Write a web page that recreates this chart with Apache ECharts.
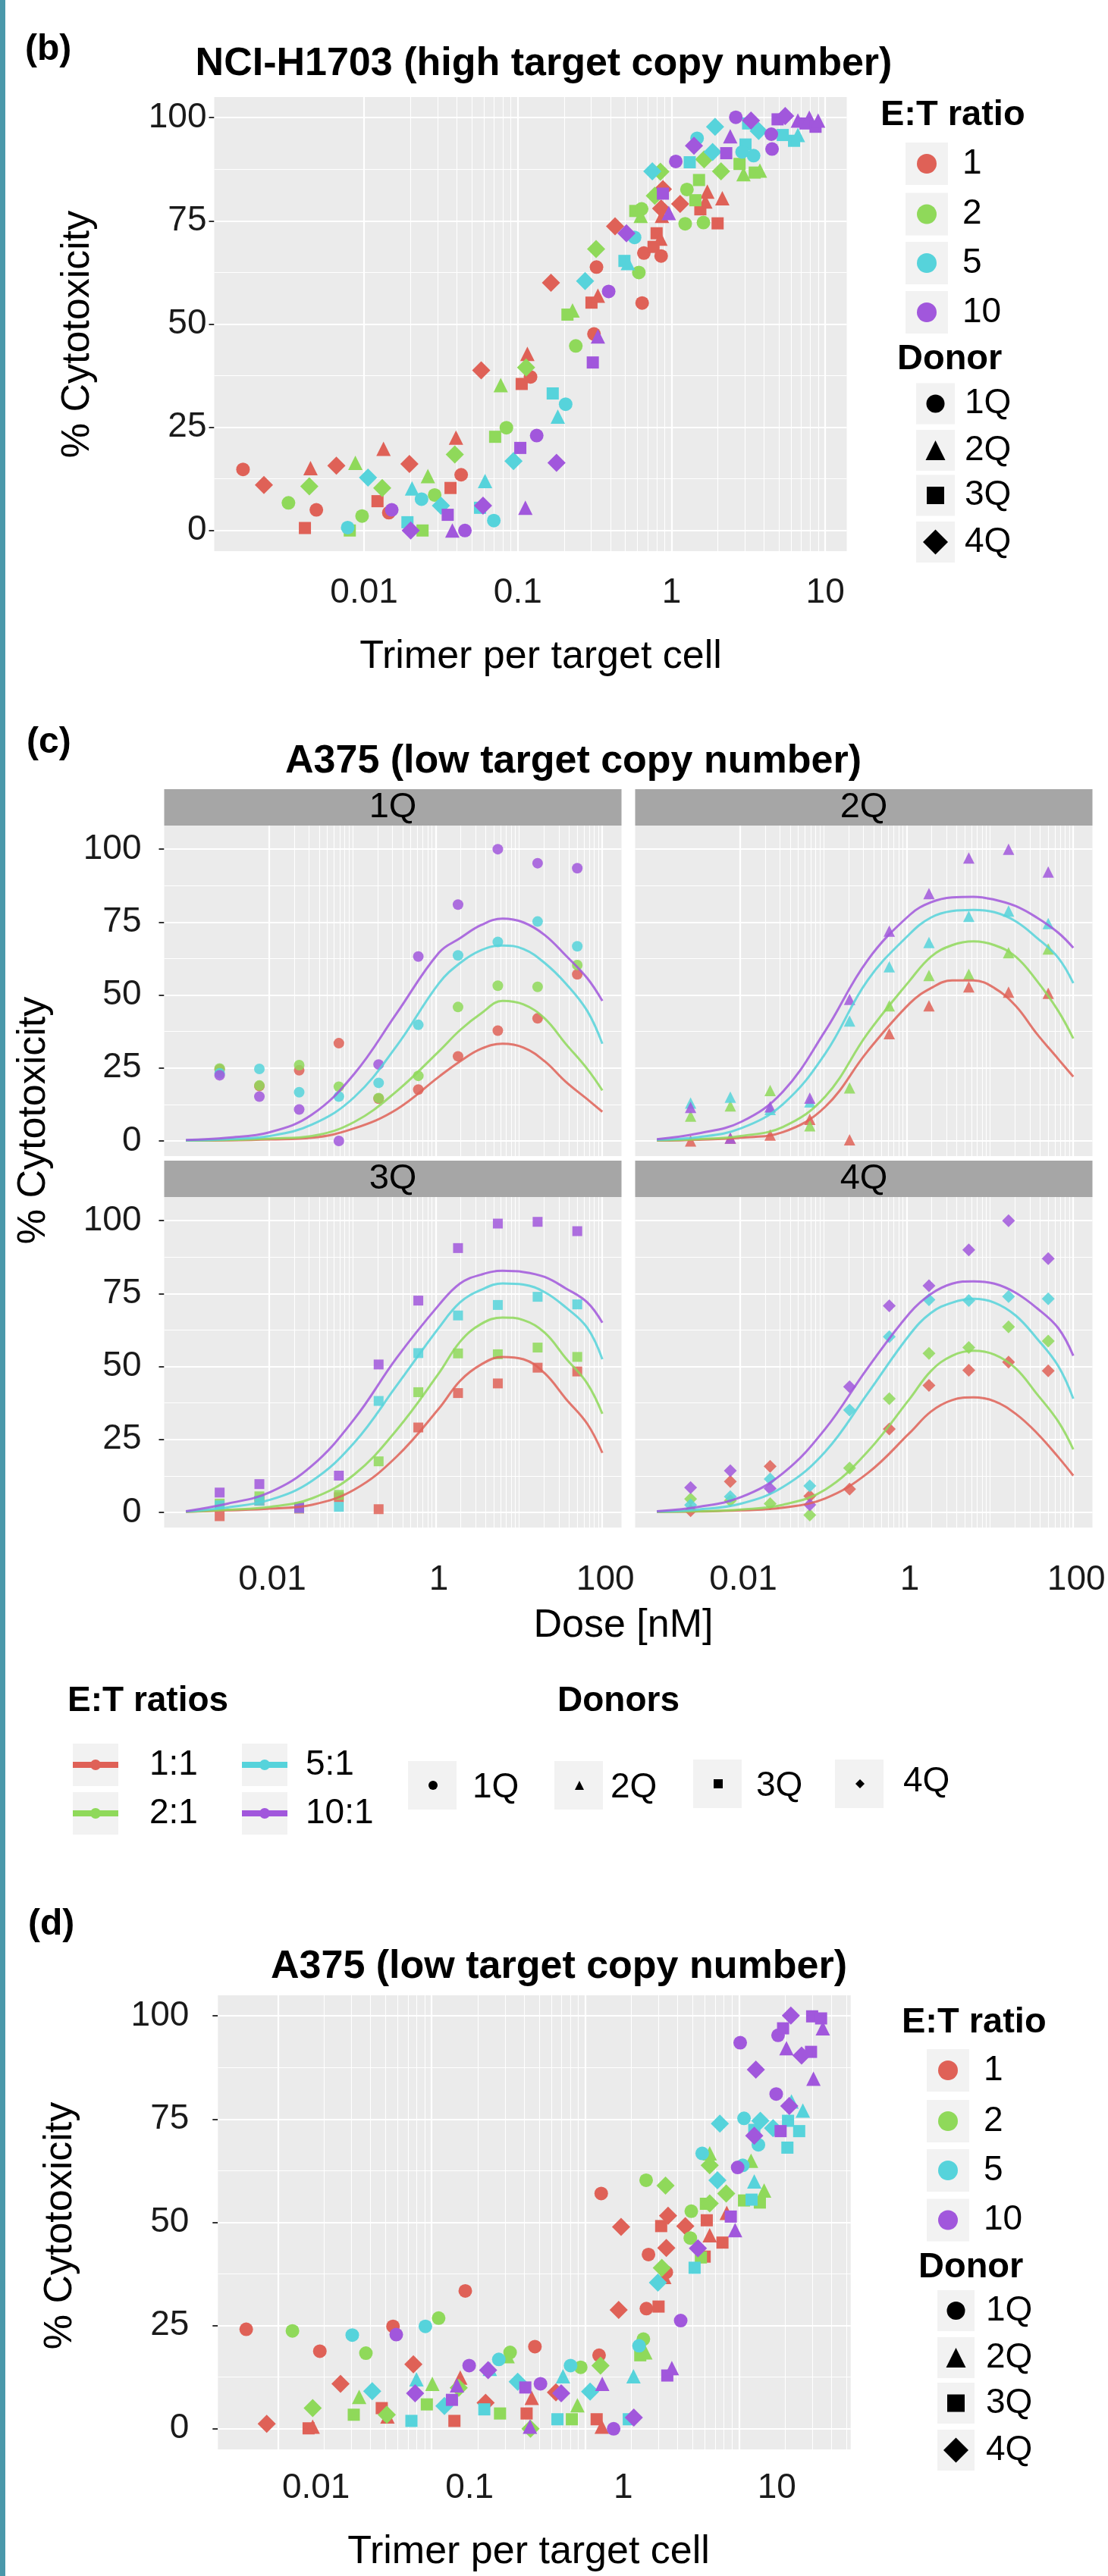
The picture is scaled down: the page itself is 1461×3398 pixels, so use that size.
<!DOCTYPE html>
<html>
<head>
<meta charset="utf-8">
<script src="https://cdn.jsdelivr.net/npm/echarts@6.0.0/dist/echarts.min.js"></script>
<style>
  html, body { margin: 0; padding: 0; background: #fff; }
  #main { width: 1461px; height: 3398px; }
</style>
</head>
<body>
<div id="main"></div>
<script>
// ---------- data ----------
var ratioLevels = [1, 2, 5, 10];
var donorLevels = ['1Q', '2Q', '3Q', '4Q'];
var xTicksTrimer = [0.01, 0.1, 1, 10];
var xTicksDose = [0.01, 1, 100];
var yTicks = [0, 25, 50, 75, 100];
var yMinorTicks = [12.5, 37.5, 62.5, 87.5];

// (b) NCI-H1703: [trimer per target cell, % cytotoxicity, E:T ratio, donor]
var h1703Points = [
  [0.00163,14.8,1,'1Q'],[0.00223,11.0,1,'4Q'],[0.00322,6.7,2,'1Q'],[0.00448,15.1,1,'2Q'],
  [0.0044,10.7,2,'4Q'],[0.00489,5.0,1,'1Q'],[0.00412,0.6,1,'3Q'],[0.0066,15.7,1,'4Q'],
  [0.00877,16.4,2,'2Q'],[0.00782,0.7,5,'1Q'],[0.00807,0,2,'3Q'],[0.0097,3.5,2,'1Q'],
  [0.0106,12.8,5,'4Q'],[0.01337,19.8,1,'2Q'],[0.01312,10.3,2,'4Q'],[0.01222,7.1,1,'3Q'],
  [0.01513,5.0,10,'1Q'],[0.01448,4.3,1,'1Q'],[0.01972,16.1,1,'4Q'],[0.0205,10.2,5,'2Q'],
  [0.01914,2.0,5,'3Q'],[0.0201,0,10,'4Q'],[0.024,0,2,'3Q'],[0.02364,7.6,5,'1Q'],
  [0.026,13.2,2,'2Q'],[0.02878,8.6,2,'1Q'],[0.0316,6.0,5,'4Q'],[0.035,3.8,10,'3Q'],
  [0.0375,0,10,'2Q'],[0.0365,10.3,1,'3Q'],[0.0396,22.5,1,'2Q'],[0.0389,18.4,2,'4Q'],
  [0.0428,13.5,1,'1Q'],[0.0453,0,10,'1Q'],[0.0578,38.8,1,'4Q'],[0.0774,35.2,2,'2Q'],
  [0.0712,22.7,2,'3Q'],[0.0843,24.9,2,'1Q'],[0.0612,12,5,'2Q'],[0.0594,6.0,10,'4Q'],
  [0.0568,5.5,5,'3Q'],[0.0698,2.4,5,'1Q'],[0.0938,16.8,5,'4Q'],[0.1038,20,10,'3Q'],
  [0.112,5.5,10,'2Q'],[0.106,35.5,1,'3Q'],[0.1154,42.8,1,'2Q'],[0.1132,39.5,2,'4Q'],
  [0.121,37.2,1,'1Q'],[0.1327,23,10,'1Q'],[0.1786,16.4,10,'4Q'],[0.1687,33.2,5,'3Q'],
  [0.2047,30.6,5,'1Q'],[0.182,27.6,5,'2Q'],[0.3075,40.7,10,'3Q'],[0.2383,44.7,2,'1Q'],
  [0.313,47.6,1,'1Q'],[0.332,47,10,'2Q'],[0.2104,52.3,2,'3Q'],[0.227,53.3,2,'2Q'],
  [0.1643,60,1,'4Q'],[0.3015,55.2,1,'3Q'],[0.332,56.9,1,'2Q'],[0.325,63.8,1,'1Q'],
  [0.39,57.9,10,'1Q'],[0.274,60.4,5,'4Q'],[0.323,68.2,2,'4Q'],[0.4293,73.7,1,'4Q'],
  [0.509,72.0,10,'4Q'],[0.575,71,5,'1Q'],[0.494,65.3,5,'3Q'],[0.52,64.8,5,'2Q'],
  [0.613,62.5,2,'1Q'],[0.644,55.1,1,'1Q'],[0.581,77.4,2,'3Q'],[0.639,77.9,2,'1Q'],
  [0.63,76.2,2,'2Q'],[0.75,87,5,'4Q'],[0.847,86.9,2,'4Q'],[0.8,72,1,'3Q'],
  [0.847,70.7,1,'2Q'],[0.661,67.2,1,'1Q'],[0.764,68.7,1,'3Q'],[0.856,66.5,1,'1Q'],
  [0.778,81.1,2,'4Q'],[0.856,78,1,'4Q'],[0.866,76.2,1,'2Q'],[0.879,82.7,1,'4Q'],
  [0.879,81.6,10,'3Q'],[0.96,76.9,10,'2Q'],[1.066,89.4,10,'1Q'],[1.227,74.3,2,'1Q'],
  [1.613,74.6,2,'1Q'],[1.995,74.4,1,'3Q'],[1.138,79.1,1,'4Q'],[1.26,82.6,2,'1Q'],
  [1.429,80,2,'3Q'],[1.71,82.1,1,'2Q'],[1.54,77.8,1,'3Q'],[1.66,79.7,1,'2Q'],
  [2.14,80.5,1,'2Q'],[1.51,84.9,2,'3Q'],[1.467,95,5,'1Q'],[1.4,93.2,10,'4Q'],
  [1.92,97.8,5,'4Q'],[1.314,89.2,5,'3Q'],[1.85,91.7,5,'4Q'],[1.63,89.9,2,'4Q'],
  [2.1,87,2,'4Q'],[2.27,91.4,10,'3Q'],[2.41,95.5,10,'2Q'],[2.62,100.1,10,'1Q'],
  [3.29,99.3,10,'4Q'],[3.15,98.6,5,'3Q'],[3.03,93.5,5,'3Q'],[3.69,96.8,5,'4Q'],
  [2.88,91.7,5,'1Q'],[3.42,90.8,5,'1Q'],[2.77,88.8,2,'3Q'],[2.94,86.3,2,'2Q'],
  [3.48,86.7,2,'3Q'],[3.76,87.2,2,'2Q'],[4.51,92.4,10,'1Q'],[4.46,96,10,'1Q'],
  [4.9,99.6,10,'3Q'],[5.49,100.4,10,'4Q'],[5.29,95.8,5,'3Q'],[6.27,94.4,5,'3Q'],
  [6.64,95.8,5,'2Q'],[6.64,99.3,10,'2Q'],[7.44,98.6,10,'3Q'],[7.88,100,10,'2Q'],
  [8.65,97.8,10,'3Q'],[8.99,99.3,10,'2Q']
];

// (c) A375 dose response per donor; rows are E:T 1, 2, 5, 10
var doseNM = [0.00254, 0.00762, 0.0229, 0.0686, 0.206, 0.617, 1.85, 5.56, 16.7, 50];
var obs1Q = [
  [24.5, 18.8, 24.2, 33.5, 14.5, 17.6, 29, 37.8, 42, 57.1],
  [24.8, 19, 26, 18.6, 14.7, 22.3, 45.9, 53.2, 52.8, 60.3],
  [23.2, 24.7, 16.7, 15.2, 19.9, 39.8, 63.6, 68.2, 75.2, 66.7],
  [22.5, 15.2, 10.8, 0, 26.2, 63.2, 81, 100, 95.2, 93.5]
];
var obs2Q = [
  [0, 1, 2, 7.4, 0.4, 36.8, 46.3, 52.8, 51, 50.6],
  [8.5, 12, 17.3, 5.2, 18.2, 46.3, 56.7, 57.1, 64.5, 65.8],
  [13, 15, 10.8, 13.4, 41.1, 59.7, 68, 77, 78.8, 74.5],
  [11.5, 1, 11.7, 14.7, 48.5, 71.9, 84.8, 97, 100, 92.2]
];
var obs3Q = [
  [-1.3, 4, 1.3, 5.2, 1.1, 29.1, 40.9, 44.2, 49.6, 48.3],
  [3, 5.5, 1.8, 6, 17.5, 41.2, 54.5, 54.2, 56.5, 53.3],
  [2.4, 4, 1.5, 1.9, 38.2, 54.6, 67.5, 71.1, 73.9, 71.3],
  [6.8, 9.7, 1.6, 12.6, 50.7, 72.6, 90.6, 99, 99.6, 96.4]
];
var obs4Q = [
  [0.6, 10.6, 15.8, 5.6, 8, 28.6, 43.5, 48.7, 51.5, 48.5],
  [4.6, 4, 3, -0.9, 15.2, 39, 54.5, 56.5, 63.6, 58.7],
  [2.5, 5.4, 11.4, 9.1, 35.1, 60.2, 72.9, 72.6, 74, 73.2],
  [8.5, 14.3, 8.2, 2.6, 43.1, 70.8, 77.7, 90, 100, 87]
];
// fitted curves
var fitDoseNM = [0.001, 0.00316, 0.0102, 0.0326, 0.105, 0.338, 1.09, 1.96, 3.51, 6.32, 11.3, 20.3, 36.3, 65.8, 100];
var fit1Q = [
  [0.1, 0.2, 0.5, 1.1, 4.3, 10.8, 22, 27.3, 31.6, 33.3, 32, 27.3, 20.3, 14.3, 10],
  [0.1, 0.3, 0.8, 1.7, 6.5, 17, 30.7, 38, 43.7, 48, 46.8, 42, 33.3, 24.7, 17.3],
  [0.2, 0.6, 1.7, 5.6, 15, 32.5, 54, 61, 65.4, 67, 65.8, 61, 54, 44.6, 33.3],
  [0.3, 1.1, 3, 9, 23, 43.7, 64.5, 69.5, 74, 76.2, 74.9, 70.6, 63.6, 55.8, 48]
];
var fit2Q = [
  [0.1, 0.4, 1.1, 3, 11.7, 30.7, 47.2, 52.4, 55, 55, 52.4, 46.3, 36.8, 28.1, 22],
  [0.2, 0.6, 1.7, 4.8, 15.2, 36.8, 55, 63.2, 67.1, 68.4, 67.1, 63.2, 55, 44.6, 35.1],
  [0.4, 1.3, 4.3, 12.6, 29.9, 55, 71, 76.6, 78.8, 79.2, 78.4, 75.3, 69.7, 62.8, 54.1],
  [0.6, 2.6, 6.5, 16.9, 37.7, 61.9, 77.5, 81.8, 83.5, 83.7, 82.7, 80.5, 76.6, 71.4, 66.2]
];
var fit3Q = [
  [0.2, 0.7, 1.3, 2.6, 7.8, 19.1, 35.6, 45.1, 50.7, 53.3, 52.5, 47.7, 39, 30.4, 20.4],
  [0.2, 0.9, 1.9, 4.8, 13, 28.2, 47.7, 58.5, 64.6, 66.8, 65.9, 61.6, 52.9, 44.2, 33.8],
  [0.3, 1.7, 4.3, 10.8, 23.9, 43.4, 63.3, 72, 76.3, 78.5, 78.1, 75.5, 70.3, 63.3, 52.5],
  [0.4, 3, 6.9, 16, 32, 52.9, 71.1, 78.5, 81.5, 82.8, 82.4, 80.7, 76.8, 72, 65]
];
var fit4Q = [
  [0.2, 0.3, 0.7, 1.6, 4.8, 13.4, 27.3, 34.6, 38.5, 39.4, 38.1, 33.8, 27.3, 19, 12.6],
  [0.2, 0.4, 1, 2.6, 7.8, 20.8, 39, 48.5, 53.7, 55.4, 54.1, 49.4, 40.7, 31.2, 21.6],
  [0.3, 1, 3, 8.7, 20.8, 40.7, 61, 68.4, 71.9, 73.2, 71.9, 67.5, 59.7, 50.2, 39],
  [0.4, 1.9, 5.2, 13.4, 28.6, 49.4, 68.4, 74.9, 78.4, 79.2, 78.4, 75.3, 70.1, 63.2, 53.7]
];

// (d) A375: [trimer per target cell, % cytotoxicity, E:T ratio, donor]
var a375Points = [
  [0.0062,24.1,1,'1Q'],[0.00843,1.2,1,'4Q'],[0.0124,23.7,2,'1Q'],[0.0158,0.1,1,'3Q'],
  [0.0168,0.5,1,'2Q'],[0.0168,5,2,'4Q'],[0.0187,18.8,1,'1Q'],[0.0255,10.9,1,'4Q'],
  [0.0337,7.7,2,'2Q'],[0.0311,3.4,2,'3Q'],[0.0304,22.7,5,'1Q'],[0.0373,18.3,2,'1Q'],
  [0.041,9.1,5,'4Q'],[0.0473,5,1,'3Q'],[0.051,3.4,2,'4Q'],[0.0515,3.0,1,'2Q'],
  [0.056,24.8,1,'1Q'],[0.0588,22.8,10,'1Q'],[0.076,15.6,1,'4Q'],[0.0796,12,5,'2Q'],
  [0.078,8.6,10,'4Q'],[0.0738,1.9,5,'3Q'],[0.091,24.8,5,'1Q'],[0.111,26.8,2,'1Q'],
  [0.101,10.9,2,'2Q'],[0.093,5.9,2,'3Q'],[0.121,5.5,5,'4Q'],[0.1355,7,10,'3Q'],
  [0.1406,1.9,1,'3Q'],[0.1655,33.4,1,'1Q'],[0.1754,15.3,10,'1Q'],[0.1535,12.4,1,'2Q'],
  [0.15,9.9,2,'4Q'],[0.146,10.5,10,'2Q'],[0.233,14.2,10,'4Q'],[0.239,14.5,5,'2Q'],
  [0.2735,16.8,5,'1Q'],[0.324,18.5,2,'1Q'],[0.312,17.6,2,'2Q'],[0.2244,6.3,1,'4Q'],
  [0.22,4.7,5,'3Q'],[0.2786,3.7,2,'3Q'],[0.363,11.4,5,'4Q'],[0.407,10,10,'3Q'],
  [0.448,7.5,1,'2Q'],[0.415,3.7,1,'3Q'],[0.44,0,2,'4Q'],[0.436,0.5,10,'2Q'],
  [0.47,19.9,1,'1Q'],[0.511,10.9,10,'1Q'],[0.802,15.3,5,'1Q'],[0.716,12.7,5,'2Q'],
  [0.934,14.9,2,'1Q'],[1.23,17.8,1,'1Q'],[1.256,15.3,2,'4Q'],[0.697,8.6,10,'4Q'],
  [0.644,8.8,1,'4Q'],[1.075,9,5,'4Q'],[1.29,10.9,10,'2Q'],[0.889,5.7,2,'2Q'],
  [0.659,2.3,5,'3Q'],[0.818,2.3,2,'3Q'],[1.186,2.3,1,'3Q'],[1.28,0.5,1,'2Q'],
  [1.53,0,10,'1Q'],[1.92,2.3,5,'3Q'],[2.07,2.7,10,'4Q'],[2.06,12.7,5,'2Q'],
  [2.39,21.7,2,'1Q'],[2.24,20.1,5,'1Q'],[2.28,17.8,2,'3Q'],[2.46,18.5,2,'2Q'],
  [3.42,12.9,10,'3Q'],[3.66,14.7,10,'2Q'],[4.18,26.2,10,'1Q'],[1.65,28.8,1,'4Q'],
  [2.5,29.1,1,'1Q'],[3.0,29.6,1,'3Q'],[2.97,35.4,5,'4Q'],[3.15,39,2,'4Q'],
  [3.27,36.8,1,'2Q'],[3.37,37.9,1,'1Q'],[2.58,42.2,1,'1Q'],[3.37,43.8,1,'4Q'],
  [1.71,48.9,1,'4Q'],[1.27,57,1,'1Q'],[2.49,60.2,2,'1Q'],[3.33,58.9,2,'4Q'],
  [3.46,51.6,1,'4Q'],[3.12,49.1,1,'3Q'],[4.48,49.1,1,'4Q'],[4.9,52.7,2,'1Q'],
  [4.83,46.2,2,'1Q'],[5.41,43.7,10,'4Q'],[5.66,41.5,2,'3Q'],[5.15,39,5,'3Q'],
  [5.99,41.7,1,'3Q'],[6.1,54.5,2,'3Q'],[6.18,50.5,1,'3Q'],[6.46,46.9,1,'2Q'],
  [6.46,54.6,2,'4Q'],[7.82,45.1,1,'3Q'],[8.86,51.4,10,'3Q'],[9.45,48.1,10,'2Q'],
  [8.34,52.3,1,'2Q'],[5.77,66.7,5,'1Q'],[6.46,66.7,2,'2Q'],[6.46,63.8,2,'4Q'],
  [7.25,60.2,5,'4Q'],[8.27,57,2,'4Q'],[7.52,73.9,5,'4Q'],[9.82,63.3,10,'1Q'],
  [10.6,63.8,5,'1Q'],[12,64.9,2,'2Q'],[10.8,55.3,2,'3Q'],[12.6,59.9,5,'2Q'],
  [12.1,55.5,5,'3Q'],[13.7,54.8,2,'3Q'],[14.6,57.7,2,'2Q'],[10.8,75.2,5,'1Q'],
  [13.4,68.8,5,'1Q'],[13.8,74.6,5,'4Q'],[12.6,71,10,'4Q'],[12.6,72.4,5,'3Q'],
  [16.7,72.8,5,'4Q'],[18.7,72.1,10,'3Q'],[20.9,74.6,5,'3Q'],[24.7,72.1,5,'3Q'],
  [20.7,68.1,5,'3Q'],[22,79.3,5,'2Q'],[26.1,77.1,5,'2Q'],[21.3,78.2,10,'4Q'],
  [17.5,81.1,10,'1Q'],[10.2,93.5,10,'1Q'],[12.9,87,10,'4Q'],[20.4,92.2,10,'2Q'],
  [18,95.3,10,'1Q'],[19.4,97,10,'3Q'],[21.8,100.1,10,'4Q'],[25.6,90.4,10,'4Q'],
  [29.5,91.3,10,'3Q'],[30,99.9,10,'3Q'],[34.3,99.4,10,'3Q'],[35.2,97,10,'2Q'],
  [30.6,84.8,10,'2Q']
];

// ---------- styles / layout ----------
var FONT = '"Liberation Sans", Arial, Helvetica, sans-serif';
var ratioColors = ['#DF6157', '#8FD95A', '#56D3DB', '#A157DC'];
var donorSymbols = ['circle', 'triangle', 'rect', 'diamond'];
var bigSize = { circle: 18, triangle: 19, rect: 16, diamond: 24 };
var smallSize = { circle: 14, triangle: 15, rect: 13, diamond: 17 };
var TICK_COL = '#333333';

var panels = [
  // b
  { left: 282.5, top: 128, width: 834, height: 599, xlo: -2.975, xhi: 1.14, ylo: -5, yhi: 105,
    xMajor: xTicksTrimer, xLab: true, yLab: true, xMargin: 32, yMargin: 10, xShift: 0, yShift: 6 },
  // c facets
  { left: 216.5, top: 1089, width: 603, height: 436, xlo: -3.261, xhi: 2.23, ylo: -5.2, yhi: 108.1,
    xMajor: xTicksDose, xLab: false, yLab: true, xMargin: 46, yMargin: 30, xShift: 4, yShift: 0 },
  { left: 837.5, top: 1089, width: 603, height: 436, xlo: -3.261, xhi: 2.23, ylo: -5.2, yhi: 108.1,
    xMajor: xTicksDose, xLab: false, yLab: false, xMargin: 46, yMargin: 30, xShift: 4, yShift: 0 },
  { left: 216.5, top: 1579, width: 603, height: 436, xlo: -3.261, xhi: 2.23, ylo: -5.2, yhi: 108.1,
    xMajor: xTicksDose, xLab: true, yLab: true, xMargin: 46, yMargin: 30, xShift: 4, yShift: 0 },
  { left: 837.5, top: 1579, width: 603, height: 436, xlo: -3.261, xhi: 2.23, ylo: -5.2, yhi: 108.1,
    xMajor: xTicksDose, xLab: true, yLab: false, xMargin: 46, yMargin: 30, xShift: 4, yShift: 0 },
  // d
  { left: 287.3, top: 2632, width: 834.4, height: 599, xlo: -2.392, xhi: 1.728, ylo: -5, yhi: 105,
    xMajor: xTicksTrimer, xLab: true, yLab: true, xMargin: 28, yMargin: 38, xShift: 50, yShift: 6 }
];

function fmt(v) { return String(+(+v).toPrecision(3)); }

function minorLines(lo, hi, majors) {
  var out = [];
  for (var k = Math.floor(lo); k <= Math.ceil(hi); k++) {
    for (var m = 1; m <= 9; m++) {
      var v = +(m * Math.pow(10, k)).toPrecision(3);
      var l = Math.log10(v);
      if (l > lo && l < hi && majors.indexOf(v) < 0) out.push(v);
    }
  }
  return out;
}

var grids = [], xAxes = [], yAxes = [], series = [];

panels.forEach(function (p, i) {
  grids.push({ left: p.left, top: p.top, width: p.width, height: p.height,
    show: true, backgroundColor: '#EBEBEB', borderWidth: 0, containLabel: false });
  var padX = p.xShift >= 0 ? [0, 0, 0, 2 * p.xShift] : [0, -2 * p.xShift, 0, 0];
  var padY = [2 * p.yShift, 0, 0, 0];
  xAxes.push({
    type: 'log', logBase: 10, gridIndex: i,
    min: Math.pow(10, p.xlo), max: Math.pow(10, p.xhi),
    axisLine: { show: false }, splitLine: { show: false },
    axisTick: { show: p.xLab, customValues: p.xMajor, length: 7, lineStyle: { color: TICK_COL, width: 2 } },
    axisLabel: { show: p.xLab, customValues: p.xMajor, margin: p.xMargin, fontSize: 46, padding: padX,
      fontFamily: FONT, color: '#1a1a1a', formatter: fmt }
  });
  yAxes.push({
    type: 'value', gridIndex: i, min: p.ylo, max: p.yhi,
    axisLine: { show: false }, splitLine: { show: false },
    axisTick: { show: p.yLab, customValues: yTicks, length: 7, lineStyle: { color: TICK_COL, width: 2 } },
    axisLabel: { show: p.yLab, customValues: yTicks, margin: p.yMargin, fontSize: 46, padding: padY,
      fontFamily: FONT, color: '#1a1a1a' }
  });
  // white panel grid lines
  var ml = [];
  p.xMajor.forEach(function (v) { ml.push({ xAxis: v, lineStyle: { width: 2.2 } }); });
  minorLines(p.xlo, p.xhi, p.xMajor).forEach(function (v) { ml.push({ xAxis: v, lineStyle: { width: 1.1 } }); });
  yTicks.forEach(function (v) { ml.push({ yAxis: v, lineStyle: { width: 2.2 } }); });
  yMinorTicks.forEach(function (v) { ml.push({ yAxis: v, lineStyle: { width: 1.1 } }); });
  series.push({
    type: 'line', xAxisIndex: i, yAxisIndex: i, data: [], silent: true,
    markLine: { silent: true, z: 1, animation: false, symbol: ['none', 'none'],
      label: { show: false }, lineStyle: { color: '#FFFFFF', type: 'solid', opacity: 1 },
      emphasis: { disabled: true }, data: ml }
  });
});

// scatter panels (b) and (d)
function scatterPanel(points, gi) {
  ratioLevels.forEach(function (r, ri) {
    var data = points.filter(function (d) { return d[2] === r; })
      .map(function (d) { return [d[0], d[1], donorLevels.indexOf(d[3])]; });
    series.push({
      type: 'scatter', xAxisIndex: gi, yAxisIndex: gi, z: 3, data: data,
      symbol: function (v) { return donorSymbols[v[2]]; },
      symbolSize: function (v) { return bigSize[donorSymbols[v[2]]]; },
      itemStyle: { color: ratioColors[ri], opacity: 1 }
    });
  });
}
scatterPanel(h1703Points, 0);
scatterPanel(a375Points, 5);

// facets (c)
var facetObs = [obs1Q, obs2Q, obs3Q, obs4Q];
var facetFit = [fit1Q, fit2Q, fit3Q, fit4Q];
facetObs.forEach(function (obs, f) {
  var gi = f + 1;
  var sym = donorSymbols[f];
  ratioLevels.forEach(function (r, ri) {
    series.push({
      type: 'scatter', xAxisIndex: gi, yAxisIndex: gi, z: 3,
      data: doseNM.map(function (d, k) { return [d, obs[ri][k]]; }),
      symbol: sym, symbolSize: smallSize[sym],
      itemStyle: { color: ratioColors[ri], opacity: 0.85 }
    });
    series.push({
      type: 'line', xAxisIndex: gi, yAxisIndex: gi, z: 4, smooth: 0.4, showSymbol: false,
      data: fitDoseNM.map(function (d, k) { return [d, facetFit[f][ri][k]]; }),
      lineStyle: { color: ratioColors[ri], width: 3, opacity: 0.85 }
    });
  });
});

// ---------- graphic (titles, strips, legends) ----------
var g = [];
function txt(x, y, s, size, bold, align, rot) {
  g.push({ type: 'text', x: x, y: y, rotation: rot || 0, silent: true,
    style: { text: s, fontSize: size, fontFamily: FONT, fontWeight: bold ? 'bold' : 'normal',
      fill: '#000', align: align || 'left', verticalAlign: 'middle' } });
}
function box(x, y, w, h, fill) {
  g.push({ type: 'rect', silent: true, shape: { x: x, y: y, width: w, height: h }, style: { fill: fill } });
}
function glyph(kind, cx, cy, s, fill) {
  var h = s / 2;
  if (kind === 'circle') {
    g.push({ type: 'circle', silent: true, shape: { cx: cx, cy: cy, r: h }, style: { fill: fill } });
  } else if (kind === 'rect') {
    g.push({ type: 'rect', silent: true, shape: { x: cx - h, y: cy - h, width: s, height: s }, style: { fill: fill } });
  } else if (kind === 'triangle') {
    g.push({ type: 'polygon', silent: true, shape: { points: [[cx, cy - h], [cx + h, cy + h], [cx - h, cy + h]] }, style: { fill: fill } });
  } else {
    g.push({ type: 'polygon', silent: true, shape: { points: [[cx, cy - h], [cx + h, cy], [cx, cy + h], [cx - h, cy]] }, style: { fill: fill } });
  }
}

box(0, 0, 7, 3398, '#4A98AA');

// (b)
txt(33, 66, '(b)', 48, true);
txt(717, 85, 'NCI-H1703 (high target copy number)', 52, true, 'center');
txt(713, 867, 'Trimer per target cell', 52, false, 'center');
txt(103, 441, '% Cytotoxicity', 52, false, 'center', Math.PI / 2);

// (c)
txt(35, 980, '(c)', 48, true);
txt(756, 1005, 'A375 (low target copy number)', 52, true, 'center');
txt(822, 2145, 'Dose [nM]', 52, false, 'center');
txt(45, 1478, '% Cytotoxicity', 52, false, 'center', Math.PI / 2);
[[216.5, 1041], [837.5, 1041], [216.5, 1531], [837.5, 1531]].forEach(function (s, f) {
  box(s[0], s[1], 603, 48, '#A6A6A6');
  txt(s[0] + 301.5, s[1] + 24, donorLevels[f], 47, false, 'center');
});

// (d)
txt(37, 2539, '(d)', 48, true);
txt(737, 2595, 'A375 (low target copy number)', 52, true, 'center');
txt(697, 3367, 'Trimer per target cell', 52, false, 'center');
txt(80, 2936, '% Cytotoxicity', 52, false, 'center', Math.PI / 2);

// right-side legends of (b) and (d)
function sideLegend(ox, titleY, keyX, keyW, keyYs, labX, donorTitleX, donorTitleY, dKeyX, dKeyW, dKeyYs, dLabX) {
  txt(ox, titleY, 'E:T ratio', 47, true);
  ratioLevels.forEach(function (r, i) {
    box(keyX, keyYs[i] - 28, keyW, 56, '#F2F2F2');
    glyph('circle', keyX + keyW / 2, keyYs[i], 26, ratioColors[i]);
    txt(labX, keyYs[i], String(r), 46);
  });
  txt(donorTitleX, donorTitleY, 'Donor', 47, true);
  var ds = { circle: 24, triangle: 26, rect: 23, diamond: 33 };
  donorLevels.forEach(function (d, i) {
    box(dKeyX, dKeyYs[i] - 27, dKeyW, 54, '#F2F2F2');
    glyph(donorSymbols[i], dKeyX + dKeyW / 2, dKeyYs[i], ds[donorSymbols[i]], '#000');
    txt(dLabX, dKeyYs[i], d, 46);
  });
}
sideLegend(1161, 152, 1194, 56, [216, 282.5, 347, 412], 1269, 1183, 474, 1208, 51, [532.5, 594, 653.5, 715], 1272);
sideLegend(1189, 2668, 1222, 56, [2731, 2798, 2863, 2928.5], 1297, 1211, 2991, 1236, 49, [3048, 3110, 3170, 3232], 1300);

// bottom legend of (c)
txt(89, 2244, 'E:T ratios', 46, true);
txt(735, 2244, 'Donors', 46, true);
var ratioKeyPos = [[96, 2328], [96, 2392], [319, 2328], [319, 2392]];
var ratioLabPos = [197, 197, 403, 403];
ratioLevels.forEach(function (r, i) {
  var p = ratioKeyPos[i];
  box(p[0], p[1] - 28, 60, 56, '#F2F2F2');
  g.push({ type: 'rect', silent: true, shape: { x: p[0], y: p[1] - 4, width: 60, height: 8 }, style: { fill: ratioColors[i] } });
  glyph('circle', p[0] + 30, p[1], 14, ratioColors[i]);
  txt(ratioLabPos[i], p[1], r + ':1', 46);
});
var donorKeyPos = [[538, 2355], [731, 2355], [914, 2353], [1101, 2353]];
var donorLabPos = [[623, 2358], [805, 2358], [997, 2356], [1191, 2350]];
donorLevels.forEach(function (d, i) {
  var p = donorKeyPos[i];
  box(p[0], p[1] - 32, 64, 64, '#F2F2F2');
  glyph(donorSymbols[i], p[0] + 33, p[1], 12, '#000');
  txt(donorLabPos[i][0], donorLabPos[i][1], d, 46);
});

var chart = echarts.init(document.getElementById('main'), null, { renderer: 'canvas' });
chart.setOption({
  animation: false,
  backgroundColor: '#FFFFFF',
  grid: grids,
  xAxis: xAxes,
  yAxis: yAxes,
  series: series,
  graphic: g
});
window.onresize = function () { chart.resize(); };
</script>
</body>
</html>
